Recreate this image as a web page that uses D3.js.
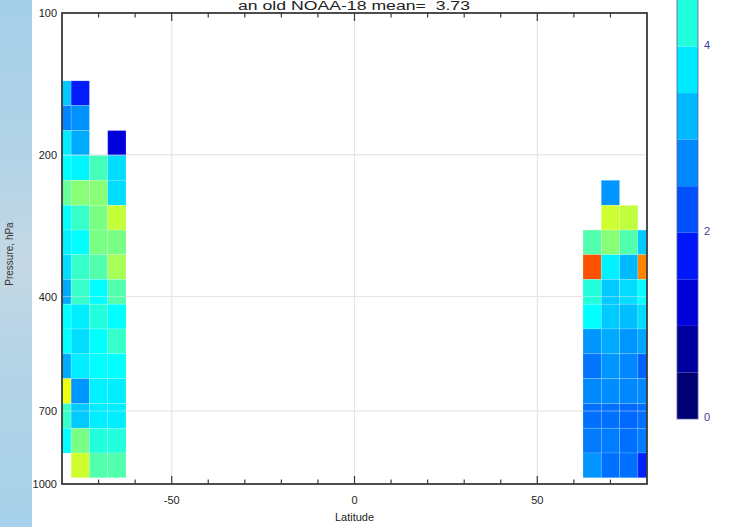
<!DOCTYPE html>
<html>
<head>
<meta charset="utf-8">
<script src="https://cdn.jsdelivr.net/npm/d3@7"></script>
<style>
  html, body { margin: 0; padding: 0; background: #ffffff; }
  svg { display: block; }
  text { font-family: "Liberation Sans", Arial, Helvetica, sans-serif; }
</style>
</head>
<body>
<svg id="chart" width="741" height="527"></svg>
<script>
// Latitude bin centres (degrees) for the two polar blocks
const southLats = [-80, -75, -70, -65];
const northLats = [65, 70, 75, 80];

// Pressure level centres, hPa (top to bottom)
const levels = [148, 167, 189, 213, 241, 272, 307, 346, 391, 441, 498, 562, 635, 717, 809, 913];

// Mean values per level (rows) and latitude bin (columns); null = no data
const southValues = [
  [3.4, 1.8, null, null],
  [2.7, 2.85, null, null],
  [3.8, 3.1, null, 1.3],
  [4.0, 3.9, 4.5, 3.6],
  [4.75, 5.0, 5.0, 3.6],
  [4.0, 4.4, 4.9, 5.6],
  [3.85, 4.0, 4.9, 4.9],
  [3.6, 4.4, 4.6, 5.3],
  [3.1, 4.4, 4.0, 4.6],
  [4.0, 3.8, 4.25, 4.0],
  [4.0, 3.6, 4.0, 4.4],
  [3.1, 3.8, 4.0, 4.0],
  [6.0, 2.9, 3.85, 3.8],
  [4.4, 3.4, 3.8, 3.8],
  [4.0, 4.9, 4.25, 4.25],
  [null, 5.7, 4.6, 4.6]
];
const northValues = [
  [null, null, null, null],
  [null, null, null, null],
  [null, null, null, null],
  [null, null, null, null],
  [null, 2.9, null, null],
  [null, 5.7, 5.55, null],
  [4.6, 5.0, 4.6, 3.4],
  [7.7, 3.85, 3.25, 7.2],
  [4.25, 3.4, 3.6, 4.0],
  [4.0, 3.4, 3.3, 3.6],
  [2.9, 3.1, 2.9, 3.05],
  [2.55, 2.9, 2.75, 2.4],
  [2.75, 2.8, 2.75, 2.75],
  [2.5, 2.5, 2.45, 2.5],
  [2.6, 2.65, 2.5, 2.65],
  [2.9, 2.5, 2.5, 1.85]
];

// Axis ticks and labels
const latTickLabels = [-50, 0, 50];
const latMinorTicks = [-70, -60, -40, -30, -20, -10, 10, 20, 30, 40, 60, 70];
const pressureTicks = [100, 200, 400, 700, 1000];
const colorbarLabels = [0, 2, 4];
const colorbarSteps = d3.range(0, 8, 0.5);

// Colour table stops
const paletteStops = [0, 0.5, 1.0, 1.5, 2.0, 2.5, 3.0, 3.5, 4.0, 4.5, 5.0, 5.5, 6.0, 6.5, 7.0, 7.5, 8.0];
const paletteColors = ["#000060", "#000082", "#0000c0", "#0000f0", "#0030ff", "#0070ff", "#00a0ff",
  "#00d4ff", "#00ffff", "#44ffbb", "#88ff77", "#bbff44", "#eeff11", "#ffcc00", "#ff9900", "#ff6600", "#ff3300"];

const titleText = "an old NOAA-18 mean=  3.73";

const svg = d3.select("#chart");

// Sky-blue strip along the left edge
const defs = svg.append("defs");
const grad = defs.append("linearGradient").attr("id", "strip").attr("x1", 0).attr("y1", 0).attr("x2", 0).attr("y2", 1);
[[0, "#a5cfe9"], [0.3, "#b2d3e7"], [0.5, "#c5d8e3"], [0.65, "#b6d4e6"], [1, "#a6d1ea"]].forEach(([o, c]) =>
  grad.append("stop").attr("offset", o).attr("stop-color", c));
svg.append("rect").attr("x", 0).attr("y", 0).attr("width", 32).attr("height", 527).attr("fill", "url(#strip)");

const plot = { left: 62, right: 647, top: 13, bottom: 484 };

const x = d3.scaleLinear().domain([-80, 80]).range([plot.left, plot.right]);
const y = d3.scaleLog().domain([100, 1000]).range([plot.top, plot.bottom]);
const color = d3.scaleLinear().domain(paletteStops).range(paletteColors).interpolate(d3.interpolateRgb).clamp(true);

defs.append("clipPath").attr("id", "plotclip").append("rect")
  .attr("x", plot.left).attr("y", plot.top)
  .attr("width", plot.right - plot.left).attr("height", plot.bottom - plot.top);

// Gridlines under the cells
const gridG = svg.append("g");
function drawGrid(g, stroke, opacity) {
  g.selectAll(".vg").data(latTickLabels).join("line")
    .attr("x1", d => x(d)).attr("x2", d => x(d))
    .attr("y1", plot.top).attr("y2", plot.bottom)
    .attr("stroke", stroke).attr("stroke-opacity", opacity).attr("stroke-width", 1);
  g.selectAll(".hg").data(pressureTicks.slice(1, -1)).join("line")
    .attr("x1", plot.left).attr("x2", plot.right)
    .attr("y1", d => y(d)).attr("y2", d => y(d))
    .attr("stroke", stroke).attr("stroke-opacity", opacity).attr("stroke-width", 1);
}
drawGrid(gridG, "#dedede", 1);

// Level edges at the geometric midpoints between level centres
const ratio = levels[1] / levels[0];
const edges = [levels[0] / Math.sqrt(ratio)];
for (let i = 0; i < levels.length - 1; i++) edges.push(Math.sqrt(levels[i] * levels[i + 1]));
edges.push(levels[levels.length - 1] * Math.sqrt(ratio));

const cells = [];
[[southLats, southValues], [northLats, northValues]].forEach(([lats, vals]) => {
  vals.forEach((row, i) => row.forEach((v, j) => {
    if (v === null) return;
    cells.push({ lat0: Math.max(-80, lats[j] - 2.5), lat1: Math.min(80, lats[j] + 2.5), p0: edges[i], p1: edges[i + 1], v });
  }));
});

svg.append("g").attr("clip-path", "url(#plotclip)")
  .selectAll("rect").data(cells).join("rect")
  .attr("x", d => x(d.lat0)).attr("width", d => x(d.lat1) - x(d.lat0))
  .attr("y", d => y(d.p0)).attr("height", d => y(d.p1) - y(d.p0))
  .attr("fill", d => color(d.v))
  .attr("stroke", "#ffffff").attr("stroke-opacity", 0.2).attr("stroke-width", 0.8);

// Faint gridlines showing through the cells
drawGrid(svg.append("g"), "#f4e8ee", 0.45);

// Frame and inward ticks
const axisG = svg.append("g").attr("stroke", "#3a3a3a");
axisG.append("rect")
  .attr("x", plot.left).attr("y", plot.top)
  .attr("width", plot.right - plot.left).attr("height", plot.bottom - plot.top)
  .attr("fill", "none").attr("stroke-width", 1.8);
const tickData = latTickLabels.map(d => ({ d, len: 8 })).concat(latMinorTicks.map(d => ({ d, len: 4.5 })));
axisG.selectAll(".tb").data(tickData).join("line")
  .attr("x1", t => x(t.d)).attr("x2", t => x(t.d))
  .attr("y1", plot.bottom).attr("y2", t => plot.bottom - t.len).attr("stroke-width", 1.2);
axisG.selectAll(".tt").data(tickData).join("line")
  .attr("x1", t => x(t.d)).attr("x2", t => x(t.d))
  .attr("y1", plot.top).attr("y2", t => plot.top + t.len).attr("stroke-width", 1.2);

// Tick labels
svg.append("g").selectAll("text").data(latTickLabels).join("text")
  .attr("x", d => x(d)).attr("y", 504)
  .attr("text-anchor", "middle").attr("font-size", 11).attr("fill", "#222")
  .text(d => d);

svg.append("g").selectAll("text").data(pressureTicks).join("text")
  .attr("x", 57).attr("y", d => y(d) + 4)
  .attr("text-anchor", "end").attr("font-size", 11).attr("fill", "#222")
  .text(d => d);

svg.append("text").attr("x", x(0)).attr("y", 521)
  .attr("text-anchor", "middle").attr("font-size", 11).attr("fill", "#222").text("Latitude");

svg.append("text")
  .attr("transform", "translate(13,254) rotate(-90)")
  .attr("text-anchor", "middle").attr("font-size", 10).attr("fill", "#333").text("Pressure, hPa");

// Title in the strip above the frame
svg.append("text").attr("x", 354).attr("y", 10)
  .attr("text-anchor", "middle").attr("font-size", 12).attr("fill", "#222")
  .style("white-space", "pre")
  .attr("textLength", 232).attr("lengthAdjust", "spacingAndGlyphs")
  .text(titleText);

// Colour bar
const cb = { x: 677, width: 21 };
const cy = d3.scaleLinear().domain([0, 4]).range([419, 46.5]);
const cbG = svg.append("g");
cbG.selectAll("rect").data(colorbarSteps).join("rect")
  .attr("x", cb.x).attr("width", cb.width)
  .attr("y", d => cy(d + 0.5)).attr("height", d => cy(d) - cy(d + 0.5))
  .attr("fill", d => color(d + 0.25));
cbG.append("rect").attr("x", cb.x).attr("y", cy(8)).attr("width", cb.width).attr("height", cy(0) - cy(8))
  .attr("fill", "none").attr("stroke", "#5a5aa8").attr("stroke-width", 0.8);
cbG.selectAll("text").data(colorbarLabels).join("text")
  .attr("x", cb.x + cb.width + 6).attr("y", d => cy(d) + 2)
  .attr("font-size", 11).attr("fill", "#3c3ca0")
  .text(d => d);
</script>
</body>
</html>
